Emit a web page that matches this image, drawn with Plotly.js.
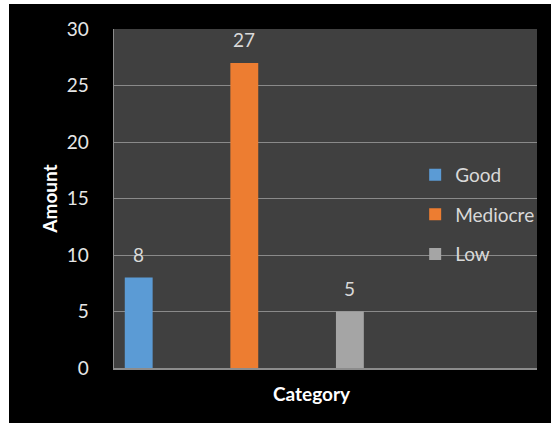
<!DOCTYPE html>
<html>
<head>
<meta charset="utf-8">
<script src="https://cdn.plot.ly/plotly-3.0.1.min.js"></script>
<style>
html,body{margin:0;padding:0;background:#ffffff;width:551px;height:423px;overflow:hidden;}
#chart{position:absolute;left:9px;top:4px;width:542px;height:419px;}
</style>
</head>
<body>
<div id="chart"></div>
<script>
const categories = ["Good", "Mediocre", "Low"];
const amounts = [8, 27, 5];
const colors = ["#5b9bd5", "#ed7d31", "#a5a5a5"];
const yTicks = [0, 5, 10, 15, 20, 25, 30];

const FONT = "Lato, 'Open Sans', sans-serif";

const traces = categories.map((c, i) => ({
  type: "bar",
  name: c,
  legendgroup: c,
  x: [c],
  y: [amounts[i]],
  width: 0.264,
  marker: {color: colors[i], line: {width: 0}},
  hoverinfo: "none"
}));

const annotations = categories.map((c, i) => ({
  x: c, y: amounts[i], xref: "x", yref: "y",
  text: String(amounts[i]), showarrow: false,
  yshift: 23, yanchor: "middle",
  font: {family: FONT, size: 19, color: "#d9d9d9"}
}));
annotations.push({
  x: 0.469, y: 0, xref: "paper", yref: "paper",
  text: "<b>Category</b>", showarrow: false,
  yshift: -25, yanchor: "middle",
  font: {family: FONT, size: 19, color: "#ffffff"}
});

const layout = {
  width: 542, height: 419,
  margin: {l: 105, r: 12, t: 25, b: 55, pad: 0},
  paper_bgcolor: "#000000",
  plot_bgcolor: "#404040",
  barmode: "overlay",
  showlegend: true,
  legend: {
    x: 0.712, y: 0.626, xanchor: "left", yanchor: "top",
    bgcolor: "rgba(0,0,0,0)",
    font: {family: FONT, size: 19, color: "#d9d9d9"},
    tracegroupgap: 12
  },
  xaxis: {
    type: "category",
    range: [-0.234, 3.772],
    showticklabels: false,
    showgrid: false,
    zeroline: false,
    showline: true, linecolor: "#8c8c8c", linewidth: 1.5,
    fixedrange: true
  },
  yaxis: {
    range: [0, 30],
    tickvals: yTicks,
    ticktext: yTicks.map(String),
    ticks: "",
    ticklabelstandoff: 20,
    tickfont: {family: FONT, size: 19, color: "#e6e6e6"},
    showgrid: true, gridcolor: "#8a8a8a", gridwidth: 1,
    zeroline: false,
    showline: true, linecolor: "#8c8c8c", linewidth: 1.5,
    title: {text: "<b>Amount</b>", font: {family: FONT, size: 19, color: "#ffffff"}, standoff: 4},
    fixedrange: true
  },
  annotations: annotations
};

Plotly.newPlot("chart", traces, layout, {displayModeBar: false, staticPlot: true});
</script>
</body>
</html>
